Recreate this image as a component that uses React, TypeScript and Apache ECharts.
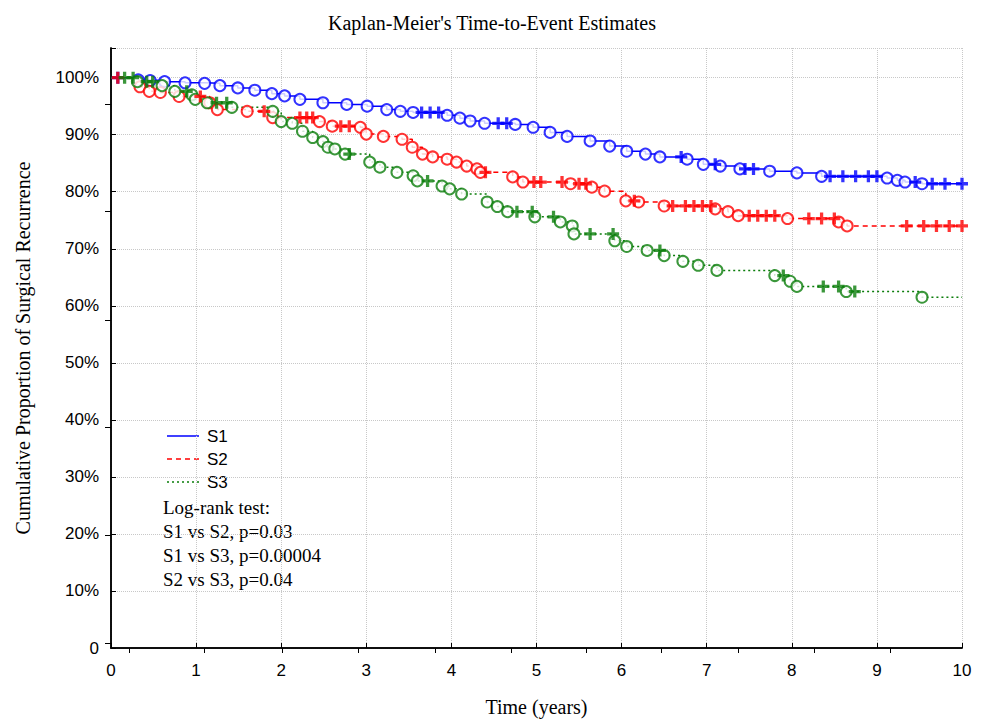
import React, { useEffect, useRef } from 'react';
import * as echarts from 'echarts';

// Kaplan-Meier step points (time in years, cumulative proportion in %)
const s1Times = [0, 0.32, 0.46, 0.63, 0.87, 1.1, 1.28, 1.49, 1.69, 1.89, 2.04, 2.22, 2.49, 2.77, 3.01, 3.24, 3.4, 3.55, 3.95, 4.1, 4.22, 4.39, 4.75, 4.96, 5.16, 5.36, 5.63, 5.86, 6.06, 6.28, 6.45, 6.77, 6.96, 7.16, 7.39, 7.74, 8.06, 8.35, 9.12, 9.24, 9.33, 9.53];
const s1Values = [100, 99.6, 99.5, 99.3, 99.1, 99.0, 98.6, 98.2, 97.8, 97.2, 96.8, 96.2, 95.6, 95.3, 95.0, 94.4, 94.1, 93.9, 93.4, 92.9, 92.4, 92.0, 91.8, 91.3, 90.4, 89.7, 88.9, 88.0, 87.1, 86.6, 86.1, 85.7, 84.8, 84.5, 84.0, 83.6, 83.3, 82.7, 82.4, 82.0, 81.7, 81.4];
const s1Censored = [0.08, 3.65, 3.75, 3.85, 4.55, 4.65, 6.7, 7.1, 7.45, 7.55, 8.45, 8.6, 8.75, 8.9, 9.0, 9.45, 9.65, 9.8, 10.0];

const s2Times = [0, 0.34, 0.45, 0.58, 0.8, 1.16, 1.25, 1.6, 1.9, 2.45, 2.6, 2.93, 3.0, 3.2, 3.42, 3.54, 3.66, 3.78, 3.95, 4.06, 4.18, 4.3, 4.34, 4.72, 4.84, 5.4, 5.65, 5.8, 6.05, 6.2, 6.5, 7.1, 7.25, 7.37, 7.95, 8.55, 8.65];
const s2Values = [100, 98.4, 97.6, 97.4, 96.7, 95.6, 94.4, 94.1, 93.0, 92.3, 91.5, 91.3, 90.1, 89.7, 89.2, 87.8, 86.6, 86.1, 85.7, 85.2, 84.5, 84.0, 83.4, 82.6, 81.7, 81.4, 80.8, 80.1, 78.4, 78.2, 77.5, 77.0, 76.5, 75.8, 75.3, 74.7, 74.0];
const s2Censored = [0.08, 1.05, 1.8, 2.22, 2.3, 2.37, 2.7, 2.8, 4.4, 4.97, 5.05, 5.3, 5.5, 5.58, 6.15, 6.6, 6.75, 6.85, 6.95, 7.05, 7.5, 7.6, 7.7, 7.8, 8.2, 8.35, 8.5, 9.35, 9.55, 9.7, 9.85, 10.0];

const s3Times = [0, 0.31, 0.6, 0.75, 0.95, 0.99, 1.13, 1.42, 1.9, 2.0, 2.13, 2.25, 2.37, 2.49, 2.55, 2.63, 2.75, 3.04, 3.16, 3.36, 3.55, 3.6, 3.89, 3.98, 4.12, 4.42, 4.54, 4.66, 4.98, 5.28, 5.42, 5.44, 5.92, 6.06, 6.3, 6.5, 6.72, 6.9, 7.12, 7.8, 7.98, 8.06, 8.64, 9.53];
const s3Values = [100, 99.3, 98.6, 97.6, 97.0, 96.2, 95.6, 94.8, 94.1, 92.3, 92.0, 90.6, 89.5, 88.8, 87.8, 87.5, 86.6, 85.2, 84.3, 83.4, 82.8, 81.9, 81.0, 80.5, 79.6, 78.2, 77.4, 76.5, 75.6, 74.7, 74.0, 72.6, 71.4, 70.4, 69.7, 68.8, 67.8, 67.1, 66.2, 65.3, 64.3, 63.4, 62.5, 61.5];
const s3Censored = [0.16, 0.26, 0.42, 0.49, 0.89, 1.24, 1.36, 2.8, 3.72, 4.77, 4.95, 5.2, 5.63, 5.9, 6.45, 7.9, 8.37, 8.55, 8.74];

const seriesNames = ['S1', 'S2', 'S3'];
const seriesColors = ['#0000ff', '#ff0000', '#0a7d0a'];
const lineDashes: any[] = [null, [5, 4], [2, 3]];

const xTicks = [0, 1, 2, 3, 4, 5, 6, 7, 8, 9, 10];
const topTicks = [0.21, 1.1, 2.01, 2.9, 3.81, 4.7, 5.59, 6.47, 7.37, 8.26, 9.16];
const rightTicks = [95.3, 76.5, 57.5, 38.7, 19.7, 0.9];

const titleText = "Kaplan-Meier's Time-to-Event Estimates";
const xName = 'Time (years)';
const yName = 'Cumulative Proportion of Surgical Recurrence';
const statLines = ['Log-rank test:', 'S1 vs S2, p=0.03', 'S1 vs S3, p=0.00004', 'S2 vs S3, p=0.04'];

const PLUS = 'path://M4,0H7V4H11V7H7V11H4V7H0V4H4Z';

function levelAt(times: number[], values: number[], t: number) {
  let v = 100;
  for (let i = 0; i < times.length; i++) {
    if (times[i] <= t) v = values[i];
  }
  return v;
}

export default function App() {
  const ref = useRef<HTMLDivElement>(null);
  useEffect(() => {
    if (!ref.current) return;
    const chart = echarts.init(ref.current, undefined, { renderer: 'svg' });
    const groups = [
      { times: s1Times, values: s1Values, cens: s1Censored },
      { times: s2Times, values: s2Values, cens: s2Censored },
      { times: s3Times, values: s3Values, cens: s3Censored },
    ];
    const series: any[] = [];
    groups.forEach((g, i) => {
      const pts = g.times.map((t, k) => [t, g.values[k]]);
      const last = g.values[g.values.length - 1];
      series.push({
        name: seriesNames[i],
        type: 'line',
        step: 'end',
        symbol: 'none',
        data: [...pts, [10, last]],
        lineStyle: { color: seriesColors[i], width: 1.5, type: lineDashes[i] || 'solid' },
        itemStyle: { color: seriesColors[i] },
        z: 2,
      });
      series.push({
        name: seriesNames[i] + ' events',
        type: 'scatter',
        symbol: 'emptyCircle',
        symbolSize: 11,
        data: pts.slice(1),
        itemStyle: { color: seriesColors[i], borderColor: seriesColors[i], borderWidth: 2 },
        z: 3,
      });
      series.push({
        name: seriesNames[i] + ' censored',
        type: 'scatter',
        symbol: PLUS,
        symbolSize: 12,
        data: g.cens.map((t) => [t, levelAt(g.times, g.values, t)]),
        itemStyle: { color: seriesColors[i] },
        z: 4,
      });
    });

    const legendGraphics: any[] = [];
    seriesNames.forEach((n, i) => {
      const y = 436 + i * 23;
      legendGraphics.push({
        type: 'line',
        shape: { x1: 167, y1: y, x2: 199, y2: y },
        style: { stroke: seriesColors[i], lineWidth: 1.5, lineDash: lineDashes[i] || undefined },
      });
      legendGraphics.push({
        type: 'text',
        x: 207,
        y,
        style: { text: n, fontFamily: 'Liberation Sans', fontSize: 17, fill: '#000', verticalAlign: 'middle' },
      });
    });
    const statGraphics = statLines.map((s, i) => ({
      type: 'text',
      x: 163,
      y: 507 + i * 24,
      style: { text: s, fontFamily: 'Liberation Serif', fontSize: 19, fill: '#000', verticalAlign: 'middle' },
    }));

    const option: any = {
      animation: false,
      backgroundColor: '#ffffff',
      title: {
        text: titleText,
        left: 'center',
        top: 8,
        textStyle: { fontFamily: 'Liberation Serif', fontWeight: 'normal', fontSize: 20, color: '#000' },
      },
      grid: { left: 111, right: 22, top: 48, bottom: 70 },
      xAxis: [
        {
          type: 'value',
          min: 0,
          max: 10,
          interval: 1,
          position: 'bottom',
          name: xName,
          nameLocation: 'middle',
          nameGap: 49,
          nameTextStyle: { fontFamily: 'Liberation Serif', fontSize: 20, color: '#000' },
          axisLine: { show: true, lineStyle: { color: '#000', width: 1.5 } },
          axisTick: { show: true, inside: true, length: 5, lineStyle: { color: '#000' } },
          axisLabel: { color: '#000', fontFamily: 'Liberation Sans', fontSize: 17, margin: 14 },
          splitLine: { show: true, lineStyle: { color: '#c8c8c8', type: 'dotted', width: 1 } },
        },
        {
          type: 'value',
          min: 0,
          max: 10,
          position: 'top',
          axisLine: { show: true, lineStyle: { color: '#000', width: 1.5 } },
          axisTick: { show: true, inside: true, length: 5, lineStyle: { color: '#000' }, customValues: topTicks },
          axisLabel: { show: false },
          splitLine: { show: false },
        },
      ],
      yAxis: [
        {
          type: 'value',
          min: 0,
          max: 105.2,
          interval: 10,
          position: 'left',
          name: yName,
          nameLocation: 'middle',
          nameGap: 78,
          nameTextStyle: { fontFamily: 'Liberation Serif', fontSize: 20, color: '#000' },
          axisLine: { show: true, lineStyle: { color: '#000', width: 1.5 } },
          axisTick: { show: true, inside: true, length: 5, lineStyle: { color: '#000' } },
          axisLabel: {
            color: '#000',
            fontFamily: 'Liberation Sans',
            fontSize: 17,
            margin: 12,
            formatter: (v: number) => (Math.abs(v % 10) > 0.01 ? '' : v === 0 ? '0' : v + '%'),
          },
          splitLine: { show: true, lineStyle: { color: '#c8c8c8', type: 'dotted', width: 1 } },
        },
        {
          type: 'value',
          min: 0,
          max: 105.2,
          position: 'right',
          axisLine: { show: true, lineStyle: { color: '#000', width: 1.5 } },
          axisTick: { show: true, inside: true, length: 6, lineStyle: { color: '#000' }, customValues: rightTicks },
          axisLabel: { show: false },
          splitLine: { show: false },
        },
      ],
      graphic: [...legendGraphics, ...statGraphics],
      series,
    };
    chart.setOption(option);
    return () => chart.dispose();
  }, []);
  return <div ref={ref} style={{ width: 984, height: 722, position: 'absolute', left: 0, top: 0 }} />;
}
